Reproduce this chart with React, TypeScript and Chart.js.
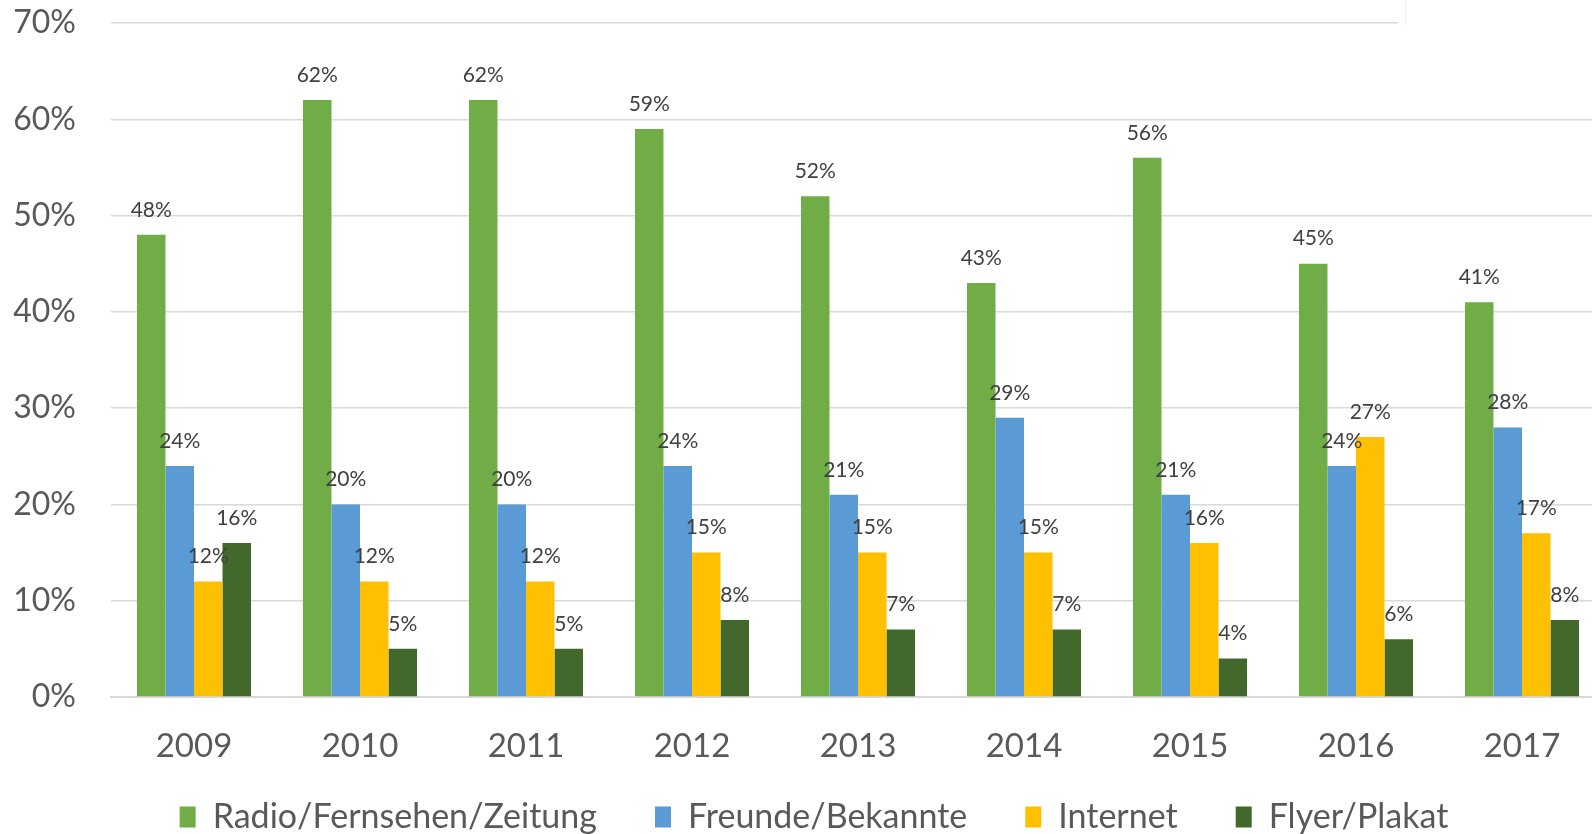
import React, { useEffect, useRef } from "react";
import { Chart, registerables } from "chart.js";

Chart.register(...registerables);

const categories = ["2009", "2010", "2011", "2012", "2013", "2014", "2015", "2016", "2017"];
const radioValues = [48, 62, 62, 59, 52, 43, 56, 45, 41];
const freundeValues = [24, 20, 20, 24, 21, 29, 21, 24, 28];
const internetValues = [12, 12, 12, 15, 15, 15, 16, 27, 17];
const flyerValues = [16, 5, 5, 8, 7, 7, 4, 6, 8];
const seriesNames = ["Radio/Fernsehen/Zeitung", "Freunde/Bekannte", "Internet", "Flyer/Plakat"];
const seriesColors = ["#70AD47", "#5B9BD5", "#FFC000", "#43682B"];

const FONT = "Lato, 'Open Sans', sans-serif";
const CANVAS_W = 1610;
const CANVAS_H = 844;

const dataLabelPlugin = {
  id: "dataLabels",
  afterDatasetsDraw(chart: any) {
    const ctx = chart.ctx;
    ctx.save();
    ctx.font = `21px ${FONT}`;
    ctx.fillStyle = "#404040";
    ctx.textAlign = "center";
    ctx.textBaseline = "middle";
    chart.data.datasets.forEach((ds: any, i: number) => {
      const meta = chart.getDatasetMeta(i);
      meta.data.forEach((el: any, j: number) => {
        ctx.fillText(ds.data[j] + "%", el.x, el.y - 25);
      });
    });
    ctx.restore();
  },
};

const cornerPlugin = {
  id: "corner",
  afterDraw(chart: any) {
    const ctx = chart.ctx;
    ctx.save();
    ctx.fillStyle = "#ffffff";
    ctx.fillRect(1398, 0, chart.width - 1398, 30);
    ctx.strokeStyle = "#eeeeee";
    ctx.lineWidth = 1;
    ctx.beginPath();
    ctx.moveTo(1405.5, 0);
    ctx.lineTo(1405.5, 26);
    ctx.stroke();
    ctx.restore();
  },
};

function noClip(scale: any) {
  scale._computeLabelArea = () => undefined;
}

export default function App() {
  const ref = useRef<HTMLCanvasElement | null>(null);

  useEffect(() => {
    if (!ref.current) return;
    const values = [radioValues, freundeValues, internetValues, flyerValues];
    const chart = new Chart(ref.current, {
      type: "bar",
      data: {
        labels: categories,
        datasets: values.map((d, i) => ({
          label: seriesNames[i],
          data: d,
          backgroundColor: seriesColors[i],
          borderWidth: 0,
          categoryPercentage: 0.687,
          barPercentage: 1,
        })),
      },
      options: {
        animation: false,
        responsive: false,
        devicePixelRatio: 1,
        layout: { padding: { top: 23, left: 23, right: CANVAS_W - 1605, bottom: 0 } },
        plugins: {
          tooltip: { enabled: false },
          legend: {
            position: "bottom",
            labels: {
              boxWidth: 16,
              boxHeight: 21,
              padding: 58,
              color: "#595959",
              font: { family: FONT, size: 34 },
            },
          },
        },
        scales: {
          x: {
            grid: { display: false, drawTicks: false },
            border: { display: true, color: "#D9D9D9", width: 2 },
            ticks: {
              color: "#595959",
              padding: 30,
              font: { family: FONT, size: 33, lineHeight: 1.2 },
            },
            afterFit(scale: any) {
              scale.height = 45;
              scale.paddingLeft = 0;
              scale.paddingRight = 0;
              noClip(scale);
            },
          },
          y: {
            min: 0,
            max: 70,
            grid: { color: "#D9D9D9", lineWidth: 1.5, drawTicks: false },
            border: { display: false },
            ticks: {
              stepSize: 10,
              color: "#595959",
              padding: 35,
              font: { family: FONT, size: 32 },
              callback: (v: any) => v + "%",
            },
            afterFit(scale: any) {
              scale.width = 88;
              scale.paddingTop = 0;
              scale.paddingBottom = 0;
              noClip(scale);
            },
          },
        },
      },
      plugins: [dataLabelPlugin, cornerPlugin],
    } as any);
    return () => chart.destroy();
  }, []);

  return (
    <div
      style={{
        position: "fixed",
        left: 0,
        top: 0,
        width: 1592,
        height: 834,
        overflow: "hidden",
        background: "#ffffff",
      }}
    >
      <canvas ref={ref} width={CANVAS_W} height={CANVAS_H} style={{ display: "block" }} />
    </div>
  );
}
